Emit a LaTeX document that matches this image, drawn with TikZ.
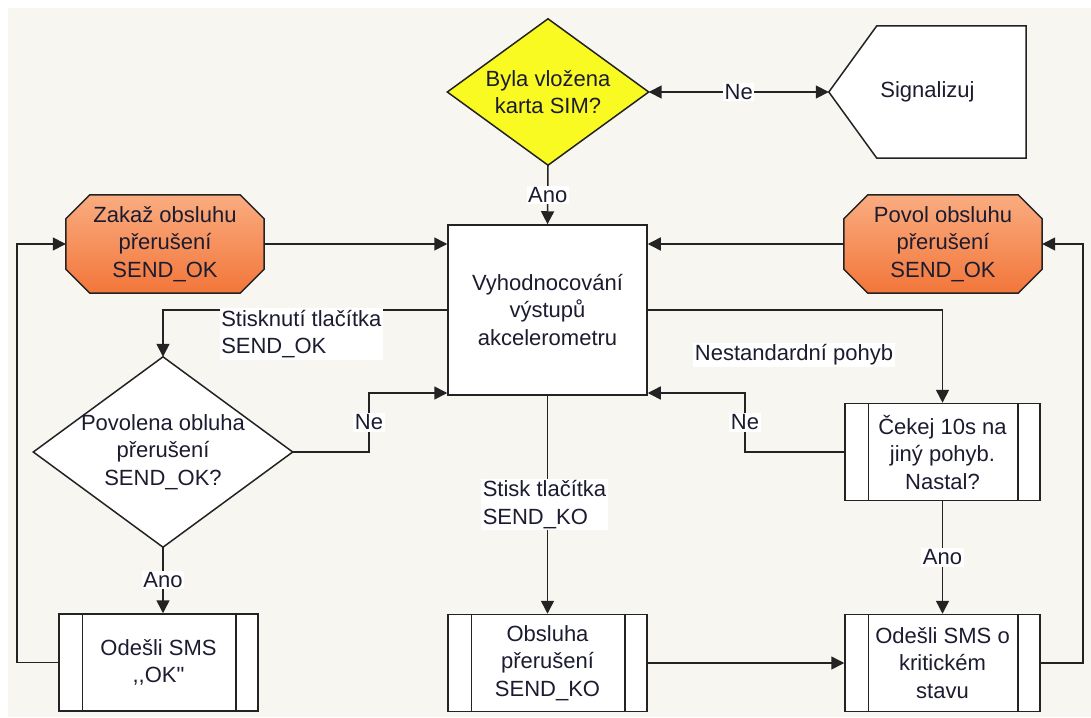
\documentclass[tikz,border=0pt]{standalone}
\usepackage{fontspec}
\setmainfont{Liberation Sans}[Ligatures=TeXOff]
\usetikzlibrary{arrows.meta,calc,backgrounds}
\definecolor{bg}{RGB}{248,246,240}
\definecolor{txt}{RGB}{28,28,48}
\definecolor{ln}{RGB}{35,35,35}
\definecolor{orTop}{RGB}{250,172,128}
\definecolor{orBot}{RGB}{242,118,58}
\definecolor{yel}{RGB}{250,250,35}
\begin{document}
\begin{tikzpicture}[x=1pt,y=-1pt,
  font=\fontsize{22}{27.5}\selectfont,
  every node/.style={align=center, inner sep=0pt, text=txt},
  conn/.style={draw=ln, line width=1.5pt, -{Triangle[length=13pt,width=13pt]}},
  conn2/.style={draw=ln, line width=1.5pt, {Triangle[length=13pt,width=13pt]}-{Triangle[length=13pt,width=13pt]}},
  lbl/.style={fill=white, inner sep=1.5pt},
  shp/.style={draw=ln, line width=1.5pt},
  plainbox/.style={rectangle, draw=ln, line width=1.5pt, fill=white},
  procbox/.style={rectangle, draw=ln, line width=1.5pt, fill=white, minimum width=197pt, minimum height=97pt},
  hollow/.style={rectangle, draw=none}]
\useasboundingbox (0,0) rectangle (1091,717);

% nodes
\node[hollow, minimum width=201pt, minimum height=146pt] (sim) at (548,92) {Byla vložena\\karta SIM?};
\node[hollow, minimum width=197pt, minimum height=132pt] (sig) at (927.5,92) {Signalizuj};
\node[hollow, minimum width=198pt, minimum height=98pt] (zakaz) at (165,244) {Zakaž obsluhu\\přerušení\\SEND\_OK};
\node[hollow, minimum width=198pt, minimum height=98pt] (povol) at (943,244) {Povol obsluhu\\přerušení\\SEND\_OK};
\node[plainbox, minimum width=199pt, minimum height=170pt] (vyh) at (547.5,310) {Vyhodnocování\\výstupů\\akcelerometru};
\node[hollow, minimum width=259pt, minimum height=190pt] (pov) at (163,452) {Povolena obluha\\přerušení\\SEND\_OK?};
\node[procbox, minimum width=199pt] (okb) at (158.5,662.5) {Odešli SMS\\,,OK"};
\node[procbox, minimum width=199pt] (obs) at (547.5,663) {Obsluha\\přerušení\\SEND\_KO};
\node[procbox, minimum width=195pt] (cek) at (942.5,452) {Čekej 10s na\\jiný pohyb.\\Nastal?};
\node[procbox, minimum width=195pt] (krit) at (942.5,663) {Odešli SMS o\\kritickém\\stavu};

% inner lines of process boxes
\foreach \n in {okb,obs,cek,krit}{
  \draw[shp] ($(\n.north west)+(24,0)$) -- ($(\n.south west)+(24,0)$);
  \draw[shp] ($(\n.north east)+(-23,0)$) -- ($(\n.south east)+(-23,0)$);
}

% helper coordinates for bends
\coordinate (lx) at (17,0);
\coordinate (rx) at (1083,0);
\coordinate (ne1) at (369,393);
\coordinate (ne2) at (745,393);

% connectors
\draw[conn2] (sim.east) -- node[lbl]{Ne} (sig.west);
\draw[conn] (sim.south) -- node[lbl]{Ano} (vyh.north);
\draw[conn] (zakaz.east) -- (zakaz.east -| vyh.west);
\draw[conn] (povol.west) -- (povol.west -| vyh.east);
\draw[conn] (okb.west) -- (okb.west -| lx) |- (zakaz.west);
\draw[conn] (krit.east) -- (krit.east -| rx) |- (povol.east);
\draw[conn] (vyh.west) -| (pov.north)
  node[lbl, align=left, anchor=west] at (219,334) {Stisknutí tlačítka\\SEND\_OK};
\draw[conn] (pov.east) -| node[lbl, pos=0.75]{Ne} (ne1) -- (ne1 -| vyh.west);
\draw[conn] (pov.south) -- node[lbl]{Ano} (pov.south |- okb.north);
\draw[conn] (vyh.south) -- node[lbl, align=left, pos=0.5, xshift=-3pt]{Stisk tlačítka\\SEND\_KO} (obs.north);
\draw[conn] (obs.east) -- (krit.west);
\draw[conn] (vyh.east) -| (cek.north)
  node[lbl] at (794,355) {Nestandardní pohyb};
\draw[conn] (cek.west) -| node[lbl, pos=0.75]{Ne} (ne2) -- (ne2 -| vyh.east);
\draw[conn] (cek.south) -- node[lbl]{Ano} (krit.north);

% shapes on background
\begin{scope}[on background layer]
\fill[bg] (8,8) rectangle (1091,717);
\draw[shp, fill=yel] (sim.north) -- (sim.east) -- (sim.south) -- (sim.west) -- cycle;
\draw[shp, fill=white] (pov.north) -- (pov.east) -- (pov.south) -- (pov.west) -- cycle;
\draw[shp, fill=white] (sig.west) -- ($(sig.north west)+(48,0)$) -- (sig.north east) -- (sig.south east) -- ($(sig.south west)+(48,0)$) -- cycle;
\foreach \n in {zakaz,povol}{
  \draw[shp, top color=orTop, bottom color=orBot]
    ($(\n.north west)+(24,0)$) -- ($(\n.north east)+(-24,0)$) -- ($(\n.north east)+(0,24)$)
    -- ($(\n.south east)+(0,-24)$) -- ($(\n.south east)+(-24,0)$) -- ($(\n.south west)+(24,0)$)
    -- ($(\n.south west)+(0,-24)$) -- ($(\n.north west)+(0,24)$) -- cycle;
}
\end{scope}
\end{tikzpicture}
\end{document}
